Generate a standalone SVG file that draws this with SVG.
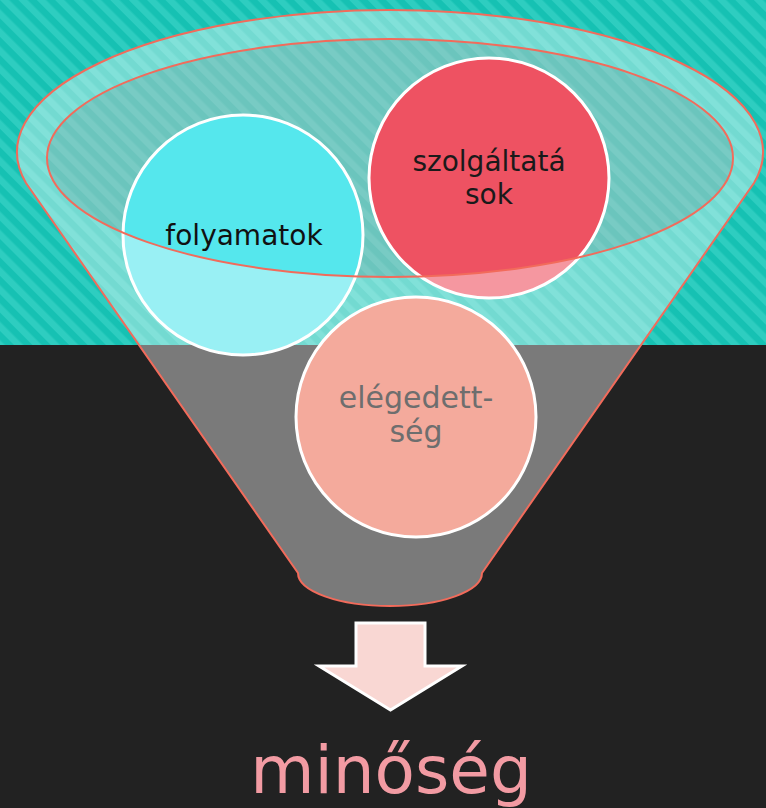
<svg xmlns="http://www.w3.org/2000/svg" width="766" height="808" viewBox="0 0 766 808">
  <defs>
    <pattern id="stripes" patternUnits="userSpaceOnUse" width="13" height="13" patternTransform="rotate(-45)">
      <rect width="13" height="13" fill="#16c1b3"/>
      <rect width="6.5" height="13" fill="#2ecdc0"/>
    </pattern>
    <style>
      .circ { stroke: #ffffff; stroke-width: 3; }
      .lbl { font-family: "DejaVu Sans", "Liberation Sans", sans-serif; text-anchor: middle; }
      .edge { stroke: #f26b5b; stroke-width: 2; }
    </style>
  </defs>

  <g id="background">
    <rect x="0" y="0" width="766" height="345" fill="url(#stripes)"/>
    <rect x="0" y="345" width="766" height="463" fill="#222222"/>
  </g>

  <g id="funnel-back">
    <ellipse cx="390" cy="158" rx="343" ry="119" fill="#c8c8c8" fill-opacity="0.48"/>
  </g>

  <g id="node-folyamatok">
    <circle class="circ" cx="243" cy="235" r="120" fill="#55e7ed"/>
    <text class="lbl" x="244" y="245" font-size="28" fill="#111111">folyamatok</text>
  </g>

  <g id="node-szolgaltatasok">
    <circle class="circ" cx="489" cy="178" r="120" fill="#ee5262"/>
    <text class="lbl" x="489" y="171" font-size="28" fill="#1a1a1a">szolgáltatá</text>
    <text class="lbl" x="489" y="204" font-size="28" fill="#1a1a1a">sok</text>
  </g>

  <g id="funnel-front">
    <path class="edge" fill="#ffffff" fill-opacity="0.4" fill-rule="evenodd"
      d="M 26,183 A 373 142 0 1 1 754,183 L 482,573 A 92 33 0 0 1 298,573 Z
         M 47,158 A 343 119 0 1 0 733,158 A 343 119 0 1 0 47,158 Z"/>
  </g>

  <g id="node-elegedettseg">
    <circle class="circ" cx="416" cy="417" r="120" fill="#f4aa9c"/>
    <text class="lbl" x="416" y="408" font-size="30" fill="#6e6e6e">elégedett-</text>
    <text class="lbl" x="416" y="442" font-size="30" fill="#6e6e6e">ség</text>
  </g>

  <g id="connectors">
    <path d="M 356,623 L 425,623 L 425,666 L 462,666 L 390.5,710 L 319,666 L 356,666 Z" fill="#f9d7d3" stroke="#ffffff" stroke-width="3" stroke-linejoin="miter"/>
  </g>

  <g id="node-minoseg">
    <text class="lbl" x="391" y="793" font-size="66" fill="#f29ba3">minőség</text>
  </g>
</svg>
